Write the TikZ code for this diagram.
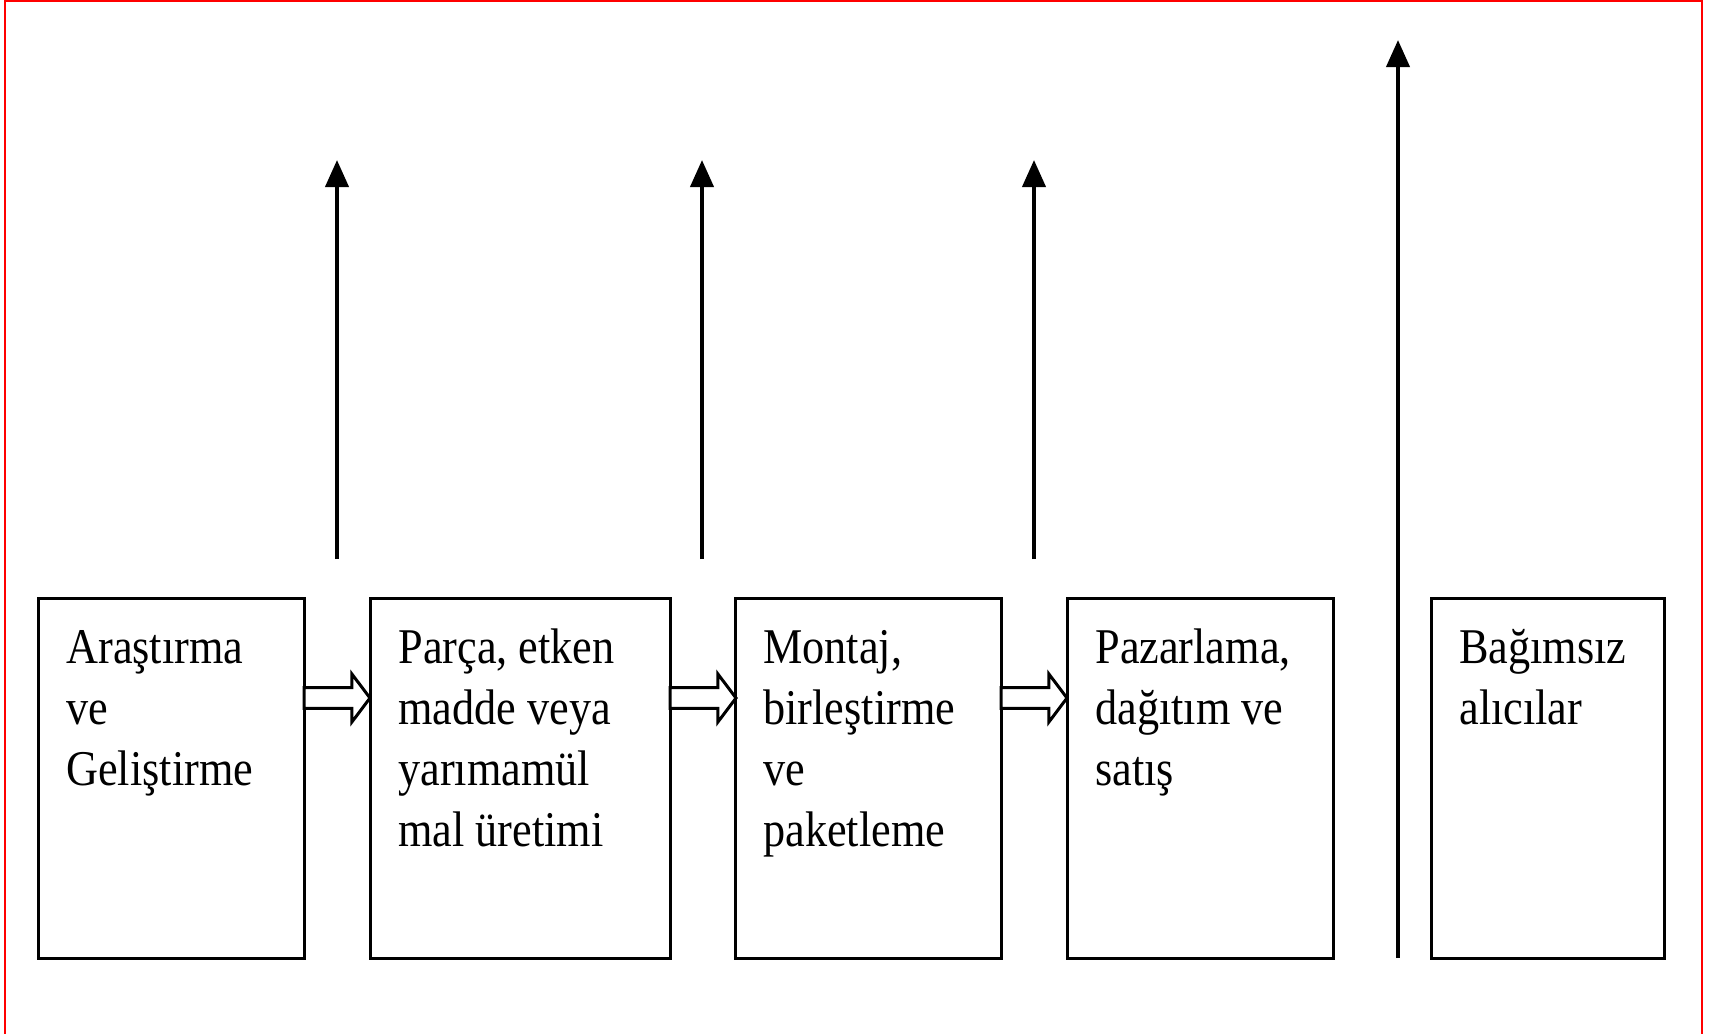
\documentclass[tikz,border=0pt]{standalone}
\usepackage{fontspec}
\setmainfont{Liberation Serif}[FakeStretch=0.885]
\usetikzlibrary{arrows.meta,shapes.arrows}
\begin{document}
\begin{tikzpicture}[
      x=0.5pt, y=-0.5pt,
      kutu/.style={rectangle, draw, line width=1.5pt, minimum height=180pt,
        inner sep=0pt, outer sep=0pt, anchor=north west},
      yazi/.style={anchor=north west, align=left, inner xsep=14pt,
        inner ysep=11pt, font=\fontsize{25}{30.5}\selectfont},
      okbos/.style={single arrow, draw, line width=1.5pt, fill=white,
        minimum height=33pt, inner xsep=0pt, inner ysep=4.4pt,
        single arrow head extend=6.85pt, single arrow tip angle=106,
        outer sep=0pt, anchor=tail},
      linet/.style={line width=2pt, -{Triangle[length=13.5pt,width=11.5pt]}}
    ]
    \useasboundingbox (0,0) rectangle (1710,1034);
    \draw[red, line width=1pt] (5,1034) -- (5,1) -- (1702,1) -- (1702,1034);
    % kutular
    \path (38,598)   node(arge)  [kutu, minimum width=133pt] {}
          (370,598)  node(parca) [kutu, minimum width=150pt] {}
          (735,598)  node(montaj)[kutu, minimum width=133pt] {}
          (1067,598) node(pazar) [kutu, minimum width=133pt] {}
          (1431,598) node(alici) [kutu, minimum width=116.5pt] {};
    \node[yazi] (arge-y)   at (arge.north west)   {\strut Araştırma\\ve\\Geliştirme};
    \node[yazi] (parca-y)  at (parca.north west)  {\strut Parça, etken\\madde veya\\yarımamül\\mal üretimi};
    \node[yazi] (montaj-y) at (montaj.north west) {\strut Montaj,\\birleştirme\\ve\\paketleme};
    \node[yazi] (pazar-y)  at (pazar.north west)  {\strut Pazarlama,\\dağıtım ve\\satış};
    \node[yazi] (alici-y)  at (alici.north west)  {\strut Bağımsız\\alıcılar};
    % ara oklar
    \node[okbos] (ok1) at ([yshift=-50pt]arge.north east) {};
    \node[okbos] (ok2) at ([yshift=-50pt]parca.north east) {};
    \node[okbos] (ok3) at ([yshift=-50pt]montaj.north east) {};
    % dikey oklar
    \foreach \x [count=\i] in {337,702,1034} {
      \coordinate (alt\i) at (\x,559);
      \coordinate (ust\i) at (\x,160);
      \draw[linet] (alt\i) -- (ust\i);
    }
    \coordinate (alt4) at (1398,958);
    \coordinate (ust4) at (1398,40);
    \draw[linet] (alt4) -- (ust4);
\end{tikzpicture}
\end{document}
